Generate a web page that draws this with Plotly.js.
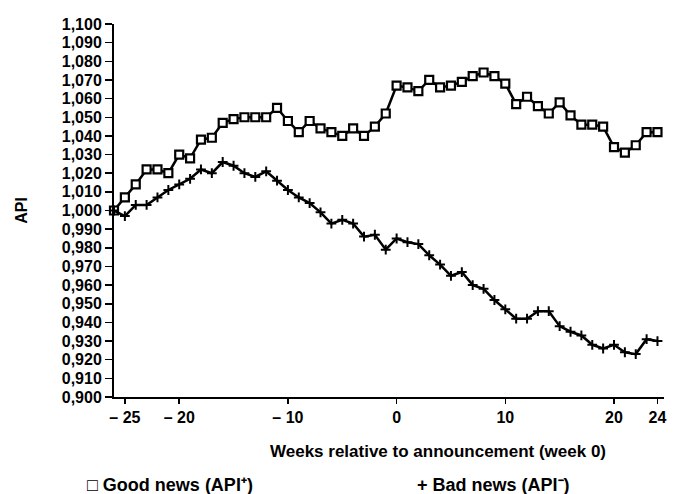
<!DOCTYPE html>
<html>
<head>
<meta charset="utf-8">
<script src="https://cdn.plot.ly/plotly-3.0.1.min.js"></script>
<style>html,body{margin:0;padding:0;background:#fff;}#chart{width:686px;height:494px;}</style>
</head>
<body>
<div id="chart"></div>
<script>
// Weeks relative to announcement
const weeks = [-26,-25,-24,-23,-22,-21,-20,-19,-18,-17,-16,-15,-14,-13,-12,-11,-10,-9,-8,-7,-6,-5,-4,-3,-2,-1,0,1,2,3,4,5,6,7,8,9,10,11,12,13,14,15,16,17,18,19,20,21,22,23,24];
// Good news (API+)
const goodNews = [1.000,1.007,1.014,1.022,1.022,1.020,1.030,1.028,1.038,1.039,1.047,1.049,1.050,1.050,1.050,1.055,1.048,1.042,1.048,1.044,1.042,1.040,1.044,1.040,1.045,1.052,1.067,1.066,1.064,1.070,1.066,1.067,1.069,1.072,1.074,1.072,1.068,1.057,1.061,1.056,1.052,1.058,1.051,1.046,1.046,1.045,1.034,1.031,1.035,1.042,1.042];
// Bad news (API-)
const badNews = [1.000,0.997,1.003,1.003,1.007,1.011,1.014,1.017,1.022,1.020,1.026,1.024,1.020,1.018,1.021,1.016,1.011,1.007,1.004,0.999,0.993,0.995,0.993,0.986,0.987,0.979,0.985,0.983,0.982,0.976,0.971,0.965,0.967,0.960,0.958,0.952,0.947,0.942,0.942,0.946,0.946,0.938,0.935,0.933,0.928,0.926,0.928,0.924,0.923,0.931,0.930];
// X tick labels
const xTickVals = [-25,-20,-10,0,10,20,24];
const xTickText = ["\u2013 25","\u2013 20","\u2013 10","0","10","20","24"];

const FONT = "Liberation Sans, Arial, Helvetica, sans-serif";

const traces = [
  {
    x: weeks, y: goodNews, type: "scatter", mode: "lines+markers", name: "Good news (API\u207A)",
    line: {color: "#000", width: 2.5},
    marker: {symbol: "square", size: 8, color: "#fff", line: {color: "#000", width: 2.2}},
    cliponaxis: false
  },
  {
    x: weeks, y: badNews, type: "scatter", mode: "lines+markers", name: "Bad news (API\u207B)",
    line: {color: "#000", width: 2.5},
    marker: {symbol: "cross-thin", size: 7, color: "#000", line: {color: "#000", width: 2}},
    cliponaxis: false
  }
];

const layout = {
  width: 686, height: 494,
  margin: {l: 114, r: 22, t: 24, b: 97},
  paper_bgcolor: "#fff", plot_bgcolor: "#fff",
  separators: ",.",
  showlegend: false,
  font: {family: FONT, color: "#000", size: 16, weight: "bold"},
  xaxis: {
    range: [-26, 24.6],
    showgrid: false, zeroline: false,
    showline: true, linecolor: "#000", linewidth: 2,
    ticks: "outside", ticklen: 5, tickwidth: 1.5, tickcolor: "#000",
    tickmode: "array", tickvals: xTickVals, ticktext: xTickText,
    tickfont: {family: FONT, size: 16, color: "#000", weight: "bold"}
  },
  yaxis: {
    range: [0.9, 1.1],
    showgrid: false, zeroline: false,
    showline: true, linecolor: "#000", linewidth: 2,
    ticks: "outside", ticklen: 7, tickwidth: 1.5, tickcolor: "#000",
    dtick: 0.01, tick0: 0.9, tickformat: ".3f",
    tickfont: {family: FONT, size: 16, color: "#000", weight: "bold"},
    title: {text: "API", font: {family: FONT, size: 16, color: "#000", weight: "bold"}, standoff: 30}
  },
  annotations: [
    {xref: "paper", yref: "paper", x: 0.589, y: -0.147, xanchor: "center", yanchor: "middle",
     text: "Weeks relative to announcement (week 0)", showarrow: false,
     font: {family: FONT, size: 17, color: "#000", weight: "bold"}},
    {xref: "paper", yref: "paper", x: -0.053, y: -0.236, xanchor: "left", yanchor: "middle",
     text: "\u25A1 Good news (API\u207A)", showarrow: false,
     font: {family: FONT, size: 18, color: "#000", weight: "bold"}},
    {xref: "paper", yref: "paper", x: 0.547, y: -0.236, xanchor: "left", yanchor: "middle",
     text: "+ Bad news (API\u207B)", showarrow: false,
     font: {family: FONT, size: 18, color: "#000", weight: "bold"}}
  ]
};

Plotly.newPlot("chart", traces, layout, {displayModeBar: false, staticPlot: true});
</script>
</body>
</html>
